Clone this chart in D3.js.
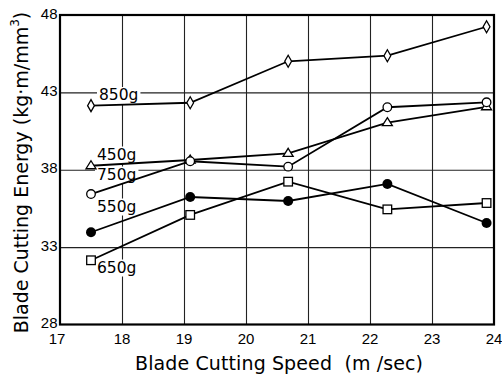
<!DOCTYPE html>
<html>
<head>
<meta charset="utf-8">
<script src="https://cdn.jsdelivr.net/npm/d3@7"></script>
<style>
  body { margin: 0; background: #fff; }
  svg { display: block; }
</style>
</head>
<body>
<div id="chart-container"></div>
<script>
// data
var speeds = [17.5, 19.1, 20.68, 22.28, 23.88];
var seriesNames = ["450g", "550g", "650g", "750g", "850g"];
var energy450 = [38.26, 38.63, 39.06, 41.04, 42.07];
var energy550 = [33.96, 36.24, 35.98, 37.08, 34.56];
var energy650 = [32.15, 35.08, 37.23, 35.44, 35.85];
var energy750 = [36.43, 38.55, 38.20, 42.04, 42.36];
var energy850 = [42.14, 42.33, 45.01, 45.37, 47.24];
var xTicks = [17, 18, 19, 20, 21, 22, 23, 24];
var yTicks = [28, 33, 38, 43, 48];

var width = 502, height = 379;
var margin = { left: 60, right: 494, top: 15, bottom: 324.5 };

var svg = d3.select("#chart-container").append("svg")
    .attr("width", width)
    .attr("height", height)
    .style("font-family", "'DejaVu Sans', sans-serif");

var x = d3.scaleLinear().domain([17, 24]).range([margin.left, margin.right]);
var y = d3.scaleLinear().domain([28, 48]).range([margin.bottom, margin.top]);

// grid lines
svg.append("g")
    .attr("transform", "translate(0," + margin.bottom + ")")
    .call(d3.axisBottom(x).tickValues(xTicks.slice(1, -1)).tickSize(-(margin.bottom - margin.top)).tickFormat(""))
    .call(g => g.select(".domain").remove())
    .call(g => g.selectAll("line").attr("stroke", "#222").attr("stroke-width", 1.1));
svg.append("g")
    .attr("transform", "translate(" + margin.left + ",0)")
    .call(d3.axisLeft(y).tickValues(yTicks.slice(1, -1)).tickSize(-(margin.right - margin.left)).tickFormat(""))
    .call(g => g.select(".domain").remove())
    .call(g => g.selectAll("line").attr("stroke", "#222").attr("stroke-width", 1.1));

// tick labels
svg.append("g").selectAll("text")
    .data(xTicks).enter().append("text")
    .attr("x", d => x(d) - (d === 17 ? 3 : 0))
    .attr("y", 344)
    .attr("text-anchor", "middle")
    .style("font-family", "'Liberation Sans', sans-serif")
    .style("font-size", "15px")
    .text(d => d);
svg.append("g").selectAll("text")
    .data(yTicks).enter().append("text")
    .attr("x", 57.5)
    .attr("y", d => y(d) + 3.5)
    .attr("text-anchor", "end")
    .style("font-family", "'Liberation Sans', sans-serif")
    .style("font-size", "15px")
    .text(d => d);

// series
var series = [
    { name: "450g", values: energy450, marker: "triangle", label: [97, 159.5] },
    { name: "550g", values: energy550, marker: "dot", label: [97, 211.5] },
    { name: "650g", values: energy650, marker: "square", label: [97, 272.5] },
    { name: "750g", values: energy750, marker: "circle", label: [97, 179.5] },
    { name: "850g", values: energy850, marker: "diamond", label: [99, 100] }
];

// white patches behind labels (they cut the grid)
var labelG = svg.append("g");
series.forEach(function (s) {
    var t = labelG.append("text")
        .attr("x", s.label[0])
        .attr("y", s.label[1])
        .style("font-size", "15.5px")
        .text(s.name);
    var b = t.node().getBBox();
    t.remove();
    labelG.append("rect")
        .attr("x", b.x - 2).attr("y", b.y + 1)
        .attr("width", b.width + 4).attr("height", b.height - 1)
        .attr("fill", "#fff");
});

var line = d3.line()
    .x((d, i) => x(speeds[i]))
    .y(d => y(d));

svg.append("g").selectAll("path")
    .data(series).enter().append("path")
    .attr("d", d => line(d.values))
    .attr("fill", "none")
    .attr("stroke", "#000")
    .attr("stroke-width", 1.8);

function drawMarker(g, type, cx, cy) {
    if (type === "dot") {
        g.append("circle").attr("cx", cx).attr("cy", cy).attr("r", 5).attr("fill", "#000");
    } else if (type === "circle") {
        g.append("circle").attr("cx", cx).attr("cy", cy).attr("r", 4.3)
            .attr("fill", "#fff").attr("stroke", "#000").attr("stroke-width", 1.3);
    } else if (type === "square") {
        g.append("rect").attr("x", cx - 4.3).attr("y", cy - 4.3).attr("width", 8.6).attr("height", 8.6)
            .attr("fill", "#fff").attr("stroke", "#000").attr("stroke-width", 1.3);
    } else if (type === "triangle") {
        g.append("path")
            .attr("d", "M" + cx + "," + (cy - 5) + "L" + (cx + 5) + "," + (cy + 3) + "L" + (cx - 5) + "," + (cy + 3) + "Z")
            .attr("fill", "#fff").attr("stroke", "#000").attr("stroke-width", 1.3);
    } else if (type === "diamond") {
        g.append("path")
            .attr("d", "M" + cx + "," + (cy - 6) + "L" + (cx + 3.4) + "," + cy + "L" + cx + "," + (cy + 6) + "L" + (cx - 3.4) + "," + cy + "Z")
            .attr("fill", "#fff").attr("stroke", "#000").attr("stroke-width", 1.3);
    }
}

var markerG = svg.append("g");
series.forEach(function (s) {
    s.values.forEach(function (v, i) {
        drawMarker(markerG, s.marker, x(speeds[i]), y(v));
    });
});

// series labels
svg.append("g").selectAll("text")
    .data(series).enter().append("text")
    .attr("x", d => d.label[0])
    .attr("y", d => d.label[1])
    .style("font-size", "15.5px")
    .text(d => d.name);

// frame
svg.append("rect")
    .attr("x", x(17)).attr("y", y(48))
    .attr("width", x(24) - x(17)).attr("height", y(28) - y(48))
    .attr("fill", "none")
    .attr("stroke", "#000")
    .attr("stroke-width", 2.2);

// axis titles
svg.append("text")
    .attr("x", (135 + 423) / 2)
    .attr("y", 369.5)
    .attr("text-anchor", "middle")
    .style("font-size", "19px")
    .style("white-space", "pre")
    .attr("textLength", 288)
    .attr("lengthAdjust", "spacing")
    .text("Blade Cutting Speed  (m /sec)");

var yt = svg.append("text")
    .attr("transform", "translate(28,172.5) rotate(-90)")
    .attr("text-anchor", "middle")
    .style("font-size", "19px");
yt.append("tspan").text("Blade Cutting Energy (kg\u00b7m/mm");
yt.append("tspan").attr("dy", -9).style("font-size", "12px").text("3");
yt.append("tspan").attr("dy", 9).text(")");
</script>
</body>
</html>
